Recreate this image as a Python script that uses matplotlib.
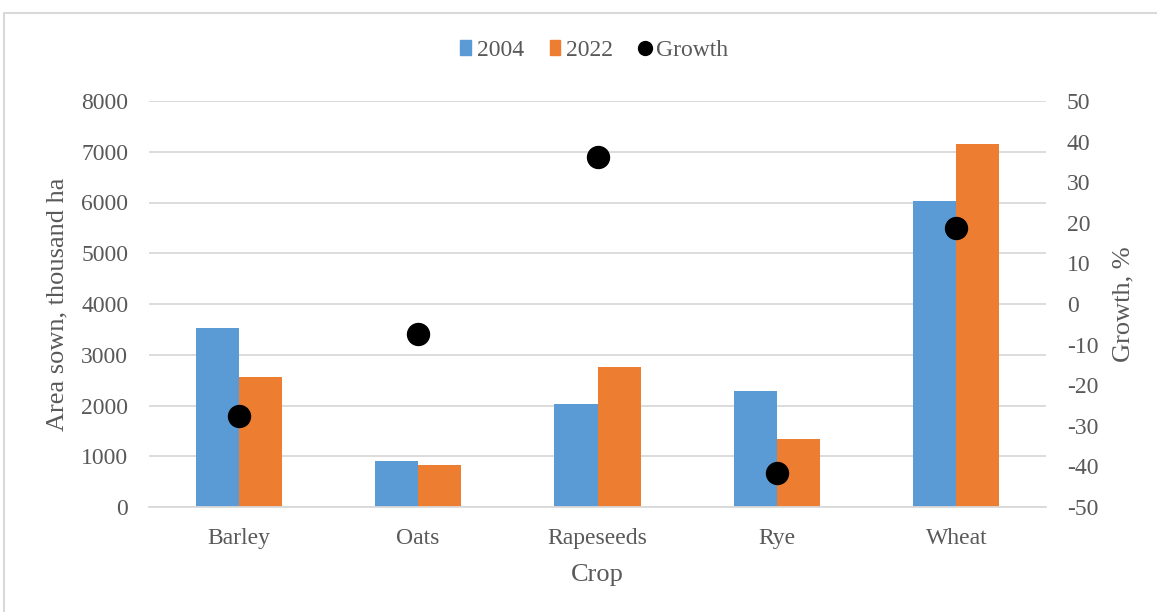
import matplotlib
matplotlib.use("Agg")
import matplotlib.pyplot as plt
import numpy as np
from matplotlib.lines import Line2D
from matplotlib.patches import Patch, Rectangle

crops = ["Barley", "Oats", "Rapeseeds", "Rye", "Wheat"]
area_2004 = [3533, 900, 2030, 2286, 6024]
area_2022 = [2556, 834, 2765, 1334, 7153]
growth = [-27.7, -7.3, 36.2, -41.6, 18.7]
left_ticks = [0, 1000, 2000, 3000, 4000, 5000, 6000, 7000, 8000]
right_ticks = [-50, -40, -30, -20, -10, 0, 10, 20, 30, 40, 50]

plt.rcParams['font.family'] = ['Liberation Serif', 'DejaVu Serif']
plt.rcParams['axes.unicode_minus'] = False
TXT = '#595959'
BLUE = '#5B9BD5'
ORANGE = '#ED7D31'
GRID = '#D9D9D9'

W, H = 1157, 612
fig = plt.figure(figsize=(W / 100, H / 100), dpi=100)
fig.patches.append(Rectangle((4 / W, -0.2), 1.2, (H - 13) / H + 0.2, transform=fig.transFigure,
                             fill=False, edgecolor='#D9D9D9', linewidth=1.5))

ax = fig.add_axes([149 / W, (H - 507) / H, (1046 - 149) / W, (507 - 101) / H])
x = np.arange(len(crops))
bw = 0.24
ax.bar(x - bw / 2, area_2004, bw, color=BLUE, label='2004', zorder=2)
ax.bar(x + bw / 2, area_2022, bw, color=ORANGE, label='2022', zorder=2)
ax.set_xlim(-0.5, len(crops) - 0.5)
ax.set_ylim(0, 8000)
ax.set_yticks(left_ticks)
ax.set_xticks(x)
ax.set_xticklabels(crops)
ax.yaxis.grid(True, color=GRID, linewidth=1.3, zorder=0)
ax.set_axisbelow(True)
for s in ['top', 'right', 'left']:
    ax.spines[s].set_visible(False)
ax.spines['bottom'].set_color(GRID)
ax.spines['bottom'].set_linewidth(1.3)
ax.tick_params(axis='both', length=0, labelsize=17, colors=TXT)
ax.tick_params(axis='y', pad=15)
ax.tick_params(axis='x', pad=15)
ax.set_ylabel('Area sown, thousand ha', fontsize=19, color=TXT, labelpad=9)
ax.set_xlabel('Crop', fontsize=19, color=TXT, labelpad=11)

ax2 = ax.twinx()
ax2.scatter(x, growth, s=250, color='black', zorder=5, label='Growth')
ax2.set_ylim(-50, 50)
ax2.set_yticks(right_ticks)
for s in ['top', 'right', 'left', 'bottom']:
    ax2.spines[s].set_visible(False)
ax2.tick_params(axis='y', length=0, labelsize=17, colors=TXT, pad=15)
ax2.set_ylabel('Growth, %', fontsize=19, color=TXT, labelpad=10)

handles = [Patch(color=BLUE, label='2004'), Patch(color=ORANGE, label='2022'),
           Line2D([], [], marker='o', color='black', linestyle='None', markersize=10, label='Growth')]
leg = fig.legend(handles=handles, loc='center', bbox_to_anchor=(594 / W, (H - 50) / H),
                 ncol=3, frameon=False, fontsize=17, handlelength=0.45, handleheight=0.6,
                 handletextpad=0.25, columnspacing=1.1)
for t in leg.get_texts():
    t.set_color(TXT)

fig.savefig('out.png', dpi=100)
